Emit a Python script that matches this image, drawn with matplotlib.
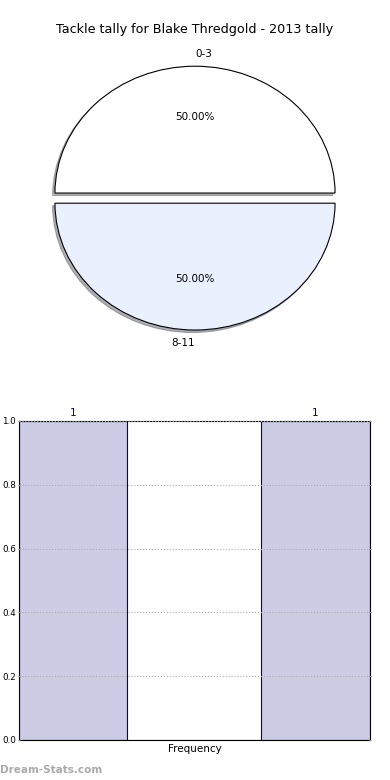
import matplotlib
matplotlib.use("Agg")
import matplotlib.pyplot as plt
import numpy as np

# pie data
pie_labels = ["0-3", "8-11"]
pie_values = [1, 1]
pie_colors = ["#ffffff", "#eaf0fe"]

# histogram data
bin_edges = [0, 1, 2.24, 3.25]
counts = [1, 0, 1]

fig = plt.figure(figsize=(3.9, 7.8), dpi=100)

fig.text(0.5, 1 - 30 / 780, "Tackle tally for Blake Thredgold - 2013 tally",
         ha="center", va="center", fontsize=9.2)

# pie
ax1 = fig.add_axes([0.105, 0.559, 0.79, 0.374])
wedges, texts, autotexts = ax1.pie(pie_values, labels=pie_labels, colors=pie_colors,
                                   explode=[0.04, 0.04],
                                   shadow={"ox": -0.012, "oy": -0.014, "shade": 0.6},
                                   startangle=0,
                                   autopct="%.2f%%", pctdistance=0.6, labeldistance=1.1,
                                   wedgeprops={"edgecolor": "black", "linewidth": 0.8},
                                   textprops={"fontsize": 7.5})
texts[0].set_ha("left")
texts[1].set_ha("right")
ax1.set_aspect("auto")
ax1.set_xlim(-1.1, 1.1)
ax1.set_ylim(-1.15, 1.15)
ax1.axis("off")

# bars
ax2 = fig.add_axes([0.0487, 0.0513, 0.9, 0.409])
ax2.bar(bin_edges[:-1], counts, width=np.diff(bin_edges), align="edge",
        color="#cccce4", edgecolor="#000080", linewidth=0.8)
ax2.set_axisbelow(False)
ax2.set_xlim(bin_edges[0], bin_edges[-1])
ax2.set_ylim(0, 1.0)
ax2.set_yticks([0.0, 0.2, 0.4, 0.6, 0.8, 1.0])
ax2.yaxis.grid(True, linestyle=":", color="#aaaaaa", linewidth=0.8)
ax2.tick_params(axis="y", labelsize=6.3, length=2, pad=1, right=True,
                direction="inout", color="#888888")
ax2.set_xticks([])
ax2.set_xlabel("Frequency", fontsize=7.5, labelpad=3)
for l, w, c in zip(bin_edges[:-1], np.diff(bin_edges), counts):
    if c > 0:
        ax2.text(l + w / 2, c + 0.01, str(c), ha="center", va="bottom",
                 fontsize=7.5, color="#000080")

fig.text(0.0, 1 - 770 / 780, "Dream-Stats.com", ha="left", va="center",
         fontsize=7.5, color="#aaaaaa", fontweight="bold")

fig.savefig("out.png", dpi=100)
